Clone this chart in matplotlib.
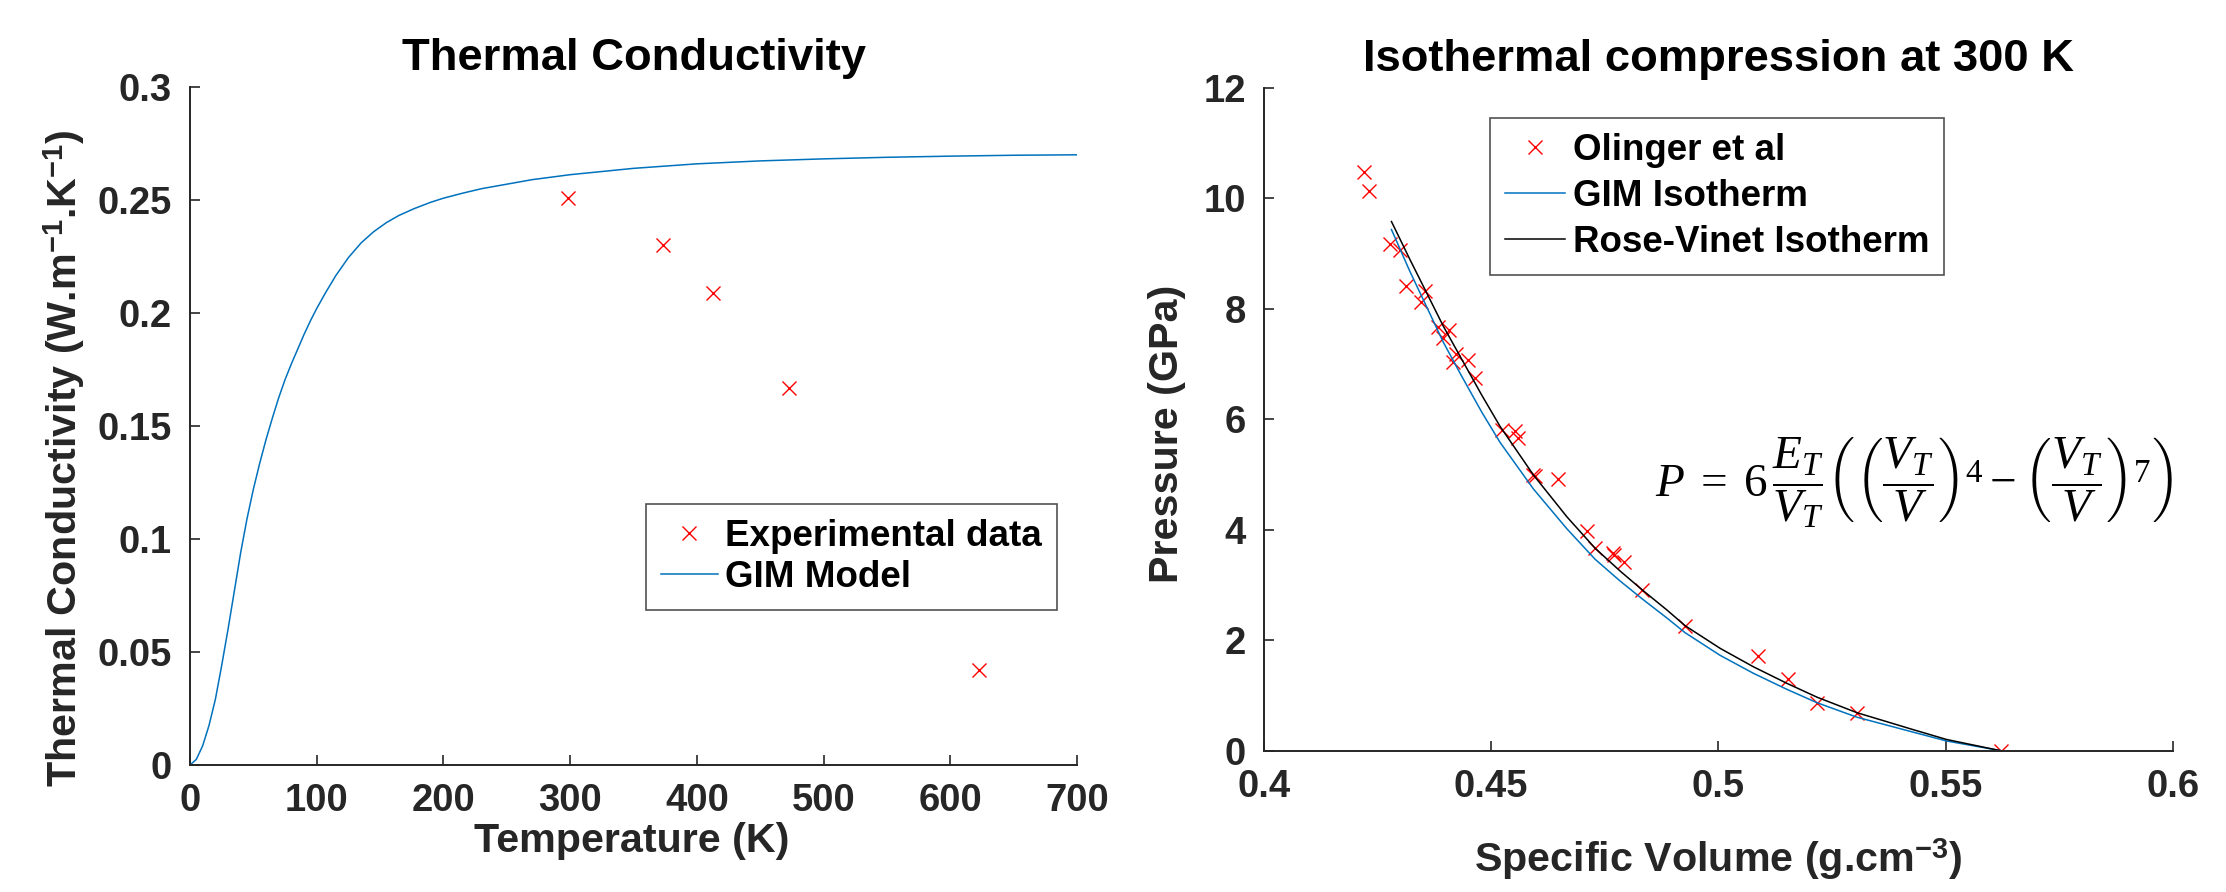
import matplotlib
matplotlib.use('Agg')
import matplotlib.pyplot as plt

W, H, DPI = 2226, 892, 100

# ---------------- data ----------------
temp_exp = [298, 373, 413, 473, 623]
k_exp = [0.251, 0.230, 0.209, 0.167, 0.042]

temp_model = [0, 5, 10, 15, 20, 25, 30, 35, 40, 45, 50, 55, 60, 65, 70, 75,
              80, 85, 90, 95, 100, 107, 115, 125, 135, 145, 155, 165, 177,
              190, 200, 215, 230, 250, 270, 300, 350, 400, 450, 500, 550,
              600, 650, 700]
k_model = [0, 0.0025, 0.0085, 0.0175, 0.029, 0.044, 0.060, 0.077, 0.094,
           0.109, 0.122, 0.1335, 0.144, 0.1535, 0.1625, 0.1705, 0.1775,
           0.184, 0.1905, 0.1965, 0.202, 0.209, 0.2165, 0.2245, 0.2310,
           0.2360, 0.2400, 0.2432, 0.2462, 0.2490, 0.2508, 0.2530, 0.2550,
           0.2570, 0.2590, 0.2612, 0.2640, 0.2660, 0.2673, 0.2682, 0.2689,
           0.2694, 0.2698, 0.2700]

vol_olinger = [0.4221, 0.4232, 0.4278, 0.4300, 0.4314, 0.4347, 0.4354, 0.4384,
               0.4395, 0.4408, 0.4417, 0.4423, 0.4449, 0.4464, 0.4524, 0.4553,
               0.4560, 0.4592, 0.4597, 0.4648, 0.4712, 0.4729, 0.4768, 0.4771,
               0.4793, 0.4833, 0.4927, 0.5088, 0.5154, 0.5216, 0.5304, 0.5621]
p_olinger = [10.48, 10.14, 9.17, 9.07, 8.42, 8.13, 8.33, 7.67,
             7.47, 7.62, 7.04, 7.19, 7.08, 6.75, 5.81, 5.78,
             5.66, 4.99, 4.98, 4.92, 3.97, 3.67, 3.58, 3.55,
             3.42, 2.91, 2.26, 1.72, 1.29, 0.86, 0.69, 0.00]

vol_iso = [0.4281, 0.4322, 0.4359, 0.4395, 0.4432, 0.4480, 0.4520, 0.4593,
           0.4667, 0.4729, 0.4784, 0.4833, 0.4887, 0.4927, 0.5004, 0.5077,
           0.5151, 0.5217, 0.5305, 0.5429, 0.5502, 0.5621]
p_vinet = [9.582, 8.888, 8.281, 7.688, 7.141, 6.433, 5.871, 4.996,
           4.234, 3.665, 3.253, 2.909, 2.547, 2.263, 1.853, 1.520,
           1.219, 0.969, 0.688, 0.380, 0.203, 0.0]
p_gim = [9.437, 8.671, 8.027, 7.398, 6.833, 6.125, 5.581, 4.742,
         4.017, 3.466, 3.072, 2.746, 2.402, 2.136, 1.726, 1.402,
         1.110, 0.869, 0.606, 0.335, 0.176, 0.0]

x1_ticks = [0, 100, 200, 300, 400, 500, 600, 700]
y1_ticks = [0, 0.05, 0.1, 0.15, 0.2, 0.25, 0.3]
y1_labels = ['0', '0.05', '0.1', '0.15', '0.2', '0.25', '0.3']
x2_ticks = [0.4, 0.45, 0.5, 0.55, 0.6]
x2_labels = ['0.4', '0.45', '0.5', '0.55', '0.6']
y2_ticks = [0, 2, 4, 6, 8, 10, 12]

# ---------------- style ----------------
plt.rcParams.update({
    'font.family': ['Liberation Sans', 'DejaVu Sans'],
    'mathtext.fontset': 'custom',
    'mathtext.rm': 'Liberation Serif',
    'mathtext.it': 'Liberation Serif:italic',
    'mathtext.bf': 'Liberation Sans:bold',
})
TICK_FS = 27.5
LABEL_FS = 29.7
TITLE_FS = 32.7
LEG_FS = 26.5
DARK = '#262626'
BLUE = '#0072BD'

fig = plt.figure(figsize=(W / DPI, H / DPI), dpi=DPI)


def px_axes(l, r, b, t):
    return [l / W, 1 - b / H, (r - l) / W, (b - t) / H]


ax1 = fig.add_axes(px_axes(190, 1077, 765, 87))
ax2 = fig.add_axes(px_axes(1263.7, 2173, 750.7, 88))

for ax in (ax1, ax2):
    for s in ('top', 'right'):
        ax.spines[s].set_visible(False)
    for s in ('left', 'bottom'):
        ax.spines[s].set_linewidth(1.4)
        ax.spines[s].set_color(DARK)
    ax.tick_params(direction='in', length=7.5, width=1.2, colors=DARK,
                   labelsize=TICK_FS, pad=13, top=False, right=False)

# ---------- left panel ----------
ax1.plot(temp_exp, k_exp, linestyle='none', marker='x', color='red',
         markersize=10, markeredgewidth=1.0, label='Experimental data')
ax1.plot(temp_model, k_model, color=BLUE, linewidth=1.1, label='GIM Model')
ax1.set_xlim(0, 700)
ax1.set_ylim(0, 0.3)
ax1.set_xticks(x1_ticks)
ax1.set_xticklabels([str(v) for v in x1_ticks], fontweight='bold')
ax1.set_yticks(y1_ticks)
ax1.set_yticklabels(y1_labels, fontweight='bold')
ax1.set_title('Thermal Conductivity', fontsize=TITLE_FS, fontweight='bold', pad=12.5)
ax1.set_xlabel('Temperature (K)', fontsize=LABEL_FS, fontweight='bold', color=DARK)
ax1.xaxis.set_label_coords(632 / W, 1 - 852 / H, transform=fig.transFigure)
ax1.xaxis.label.set_verticalalignment('baseline')
ax1.set_ylabel(r'Thermal Conductivity (W.m$^{\mathbf{-1}}$.K$^{\mathbf{-1}}$)',
               fontsize=LABEL_FS, fontweight='bold', color=DARK)
ax1.yaxis.set_label_coords(64 / W, 1 - 458 / H, transform=fig.transFigure)
ax1.yaxis.label.set_verticalalignment('center')
leg1 = ax1.legend(loc='upper left', bbox_to_anchor=(646 / W, 1 - 504 / H),
                  bbox_transform=fig.transFigure, frameon=True,
                  fancybox=False, edgecolor=DARK, borderpad=0.4,
                  labelspacing=0.17, handlelength=1.55, handletextpad=0.2,
                  borderaxespad=0, prop={'weight': 'bold', 'size': LEG_FS})
leg1.get_frame().set_linewidth(1.2)

# ---------- right panel ----------
ax2.plot(vol_olinger, p_olinger, linestyle='none', marker='x', color='red',
         markersize=10, markeredgewidth=1.0, label='Olinger et al')
ax2.plot(vol_iso, p_gim, color=BLUE, linewidth=1.1, label='GIM Isotherm')
ax2.plot(vol_iso, p_vinet, color='black', linewidth=1.1, label='Rose-Vinet Isotherm')
ax2.set_xlim(0.4, 0.6)
ax2.set_ylim(0, 12)
ax2.set_xticks(x2_ticks)
ax2.set_xticklabels(x2_labels, fontweight='bold')
ax2.set_yticks(y2_ticks)
ax2.set_yticklabels([str(v) for v in y2_ticks], fontweight='bold')
ax2.set_title('Isothermal compression at 300 K', fontsize=TITLE_FS,
              fontweight='bold', pad=12.5)
ax2.set_xlabel(r'Specific Volume (g.cm$^{\mathbf{-3}}$)', fontsize=LABEL_FS,
               fontweight='bold', color=DARK)
ax2.xaxis.set_label_coords(1718 / W, 1 - 872 / H, transform=fig.transFigure)
ax2.xaxis.label.set_verticalalignment('baseline')
ax2.set_ylabel('Pressure (GPa)', fontsize=LABEL_FS, fontweight='bold', color=DARK)
ax2.yaxis.set_label_coords(1167 / W, 1 - 434 / H, transform=fig.transFigure)
ax2.yaxis.label.set_verticalalignment('center')
leg2 = ax2.legend(loc='upper left', bbox_to_anchor=(1490 / W, 1 - 118 / H),
                  bbox_transform=fig.transFigure, frameon=True,
                  fancybox=False, edgecolor=DARK, borderpad=0.4,
                  labelspacing=0.3, handlelength=1.65, handletextpad=0.2,
                  borderaxespad=0, prop={'weight': 'bold', 'size': LEG_FS})
leg2.get_frame().set_linewidth(1.2)

eq = (r'$P\;=\;6\,\dfrac{E_T}{V_T}\left(\left(\dfrac{V_T}{V}\right)^{4}'
      r' - \left(\dfrac{V_T}{V}\right)^{7}\right)$')
fig.text(1914 / W, 1 - 483 / H, eq, fontsize=34, ha='center', va='center',
         color='black')

fig.savefig('out.png', dpi=DPI)
